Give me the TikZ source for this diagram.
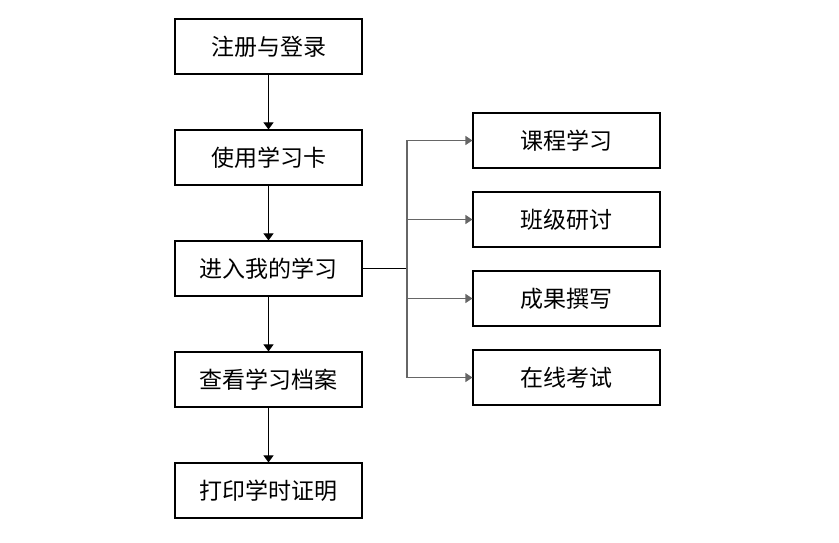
\documentclass[tikz,border=0pt]{standalone}
\usepackage{fontspec}
\newfontfamily\cjk{Noto Sans CJK SC}
\usetikzlibrary{arrows.meta}
\begin{document}
\begin{tikzpicture}[x=1pt,y=-1pt,
  box/.style={draw=black,line width=1.1pt,minimum width=187pt,minimum height=55pt,inner sep=0pt,font=\cjk\fontsize{23}{26}\selectfont},
  arr/.style={line width=1pt,-{Triangle[width=10pt,length=7pt]}},
  garr/.style={draw=black!60,line width=1.2pt,-{Triangle[width=9pt,length=7pt]},color=black!60}]
\useasboundingbox (0,0) rectangle (839,542);
\node[box] (a) at (268.5,46.5) {注册与登录};
\node[box] (b) at (268.5,157.5) {使用学习卡};
\node[box] (c) at (268.5,268.5) {进入我的学习};
\node[box] (d) at (268.5,379.5) {查看学习档案};
\node[box] (e) at (268.5,490.5) {打印学时证明};
\node[box] (r1) at (566.5,140.5) {课程学习};
\node[box] (r2) at (566.5,219.5) {班级研讨};
\node[box] (r3) at (566.5,298.5) {成果撰写};
\node[box] (r4) at (566.5,377.5) {在线考试};
\coordinate (j) at (407,268.5);
\draw[arr] (a) -- (b);
\draw[arr] (b) -- (c);
\draw[arr] (c) -- (d);
\draw[arr] (d) -- (e);
\draw[line width=1pt] (c.east) -- (j);
\draw[garr] (j) |- (r1.west);
\draw[garr] (j) |- (r2.west);
\draw[garr] (j) |- (r3.west);
\draw[garr] (j) |- (r4.west);
\end{tikzpicture}
\end{document}
